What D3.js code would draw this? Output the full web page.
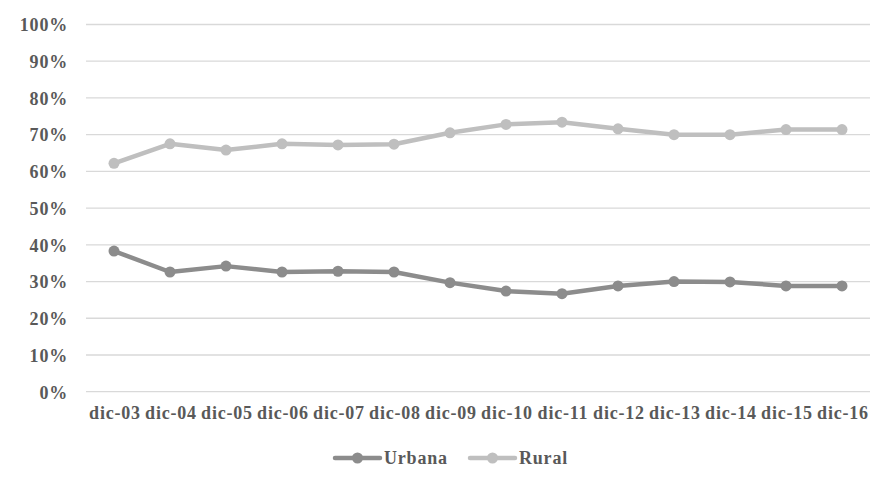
<!DOCTYPE html>
<html><head><meta charset="utf-8">
<script src="https://cdn.jsdelivr.net/npm/d3@7"></script>
<style>
body{margin:0;background:#fff;}
text{font-family:"Liberation Serif","Times New Roman",serif;font-weight:bold;fill:#595959;font-size:18px;letter-spacing:0.8px;}
</style></head>
<body><svg id="c" width="888" height="478"></svg>
<script>
const categories = ["dic-03","dic-04","dic-05","dic-06","dic-07","dic-08","dic-09","dic-10","dic-11","dic-12","dic-13","dic-14","dic-15","dic-16"];
const urbana = [0.383,0.326,0.342,0.326,0.328,0.326,0.297,0.274,0.267,0.288,0.300,0.299,0.288,0.288];
const rural  = [0.622,0.675,0.658,0.675,0.672,0.674,0.705,0.728,0.734,0.716,0.700,0.700,0.714,0.714];
const yTicks = [0,0.1,0.2,0.3,0.4,0.5,0.6,0.7,0.8,0.9,1.0];
const seriesNames = ["Urbana","Rural"];
const seriesColors = ["#8c8c8c","#bfbfbf"];

const svg = d3.select("#c");
const x = d3.scaleBand().domain(categories).range([86,870]);
const y = d3.scaleLinear().domain([0,1]).range([391.7,24.5]);

// gridlines
svg.append("g").selectAll("line").data(yTicks).join("line")
  .attr("x1",86).attr("x2",870)
  .attr("y1",d=>y(d)).attr("y2",d=>y(d))
  .attr("stroke","#d9d9d9").attr("stroke-width",1.3);

// y labels
const yAxis = d3.axisLeft(y).tickValues(yTicks).tickFormat(d3.format(".0%")).tickSize(0).tickPadding(0);
const gy = svg.append("g").attr("transform","translate(68,0)").call(yAxis);
gy.select(".domain").remove();
gy.selectAll("text").attr("font-size",null).attr("font-family",null).attr("dy","0.35em");

// x labels
const xAxis = d3.axisBottom(x).tickSize(0).tickPadding(0);
const gx = svg.append("g").attr("transform","translate(1,406)").call(xAxis);
gx.select(".domain").remove();
gx.selectAll("text").attr("font-size",null).attr("font-family",null).attr("dy","0.71em");

const data = [urbana, rural];
const line = d3.line().x((d,i)=>x(categories[i])+x.bandwidth()/2).y(d=>y(d));
data.forEach((vals,k)=>{
  svg.append("path").datum(vals).attr("d",line)
    .attr("fill","none").attr("stroke",seriesColors[k]).attr("stroke-width",4.5).attr("stroke-linejoin","round");
  svg.append("g").selectAll("circle").data(vals).join("circle")
    .attr("cx",(d,i)=>x(categories[i])+x.bandwidth()/2).attr("cy",d=>y(d))
    .attr("r",5.5).attr("fill",seriesColors[k]);
});

// legend
const leg = [{x:335},{x:470}];
seriesNames.forEach((n,k)=>{
  const lx = leg[k].x, ly = 458;
  svg.append("line").attr("x1",lx).attr("x2",lx+45).attr("y1",ly).attr("y2",ly)
    .attr("stroke",seriesColors[k]).attr("stroke-width",4.5).attr("stroke-linecap","round");
  svg.append("circle").attr("cx",lx+22.5).attr("cy",ly).attr("r",5.5).attr("fill",seriesColors[k]);
  svg.append("text").attr("x",lx+49).attr("y",ly).attr("dy","0.35em").text(n);
});
</script></body></html>
